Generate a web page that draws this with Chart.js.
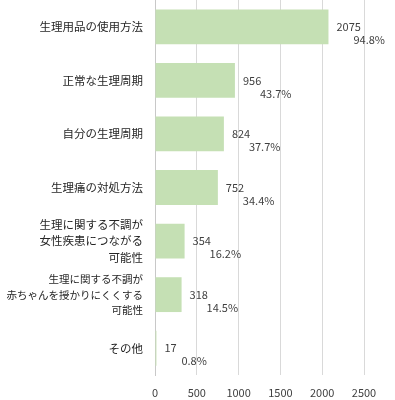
<!DOCTYPE html>
<html>
<head>
<meta charset="utf-8">
<script src="https://cdn.jsdelivr.net/npm/chart.js@4"></script>
<style>
    body { margin: 0; background: #fff; }
    #wrap { width: 395px; height: 400px; }
</style>
</head>
<body>
<div id="wrap"><canvas id="chart" width="395" height="400"></canvas></div>
<script>
// Данные графика
const categories = [
    '生理用品の使用方法',
    '正常な生理周期',
    '自分の生理周期',
    '生理痛の対処方法',
    ['生理に関する不調が', '女性疾患につながる', '可能性'],
    ['生理に関する不調が', '赤ちゃんを授かりにくくする', '可能性'],
    'その他'
];
const counts = [2075, 956, 824, 752, 354, 318, 17];
const percents = [94.8, 43.7, 37.7, 34.4, 16.2, 14.5, 0.8];
const xTicks = [0, 500, 1000, 1500, 2000, 2500];

const fontFamily = '"Noto Sans CJK JP", "Noto Sans", sans-serif';

// Подписи значений справа от столбцов
const valueLabels = {
    id: 'valueLabels',
    afterDatasetsDraw(chart) {
        const ctx = chart.ctx;
        const meta = chart.getDatasetMeta(0);
        const xScale = chart.scales.x;
        ctx.save();
        ctx.font = '11px ' + fontFamily;
        ctx.fillStyle = '#404040';
        ctx.textBaseline = 'middle';
        ctx.textAlign = 'left';
        meta.data.forEach((bar, i) => {
            const end = xScale.getPixelForValue(counts[i]);
            ctx.fillText(String(counts[i]), end + 8, bar.y);
            ctx.fillText(percents[i].toFixed(1) + '%', end + 25, bar.y + 13);
        });
        ctx.restore();
    }
};

new Chart(document.getElementById('chart').getContext('2d'), {
    type: 'bar',
    data: {
        labels: categories,
        datasets: [{
            data: counts,
            backgroundColor: '#c5e0b4',
            borderWidth: 0,
            categoryPercentage: 0.65,
            barPercentage: 1
        }]
    },
    options: {
        indexAxis: 'y',
        responsive: false,
        devicePixelRatio: 1,
        animation: false,
        layout: { padding: { top: 0, right: 31, bottom: 0, left: 0 } },
        plugins: {
            legend: { display: false },
            tooltip: { enabled: false }
        },
        scales: {
            x: {
                min: 0,
                max: 2500,
                afterBuildTicks: scale => {
                    scale.ticks = xTicks.map(v => ({ value: v }));
                },
                afterFit: scale => {
                    scale.height = 25;
                    scale.paddingLeft = 0;
                },
                grid: { color: '#d9d9d9', drawTicks: false },
                border: { display: false },
                ticks: {
                    padding: 11,
                    color: '#404040',
                    font: { family: fontFamily, size: 11 },
                    callback: v => String(v)
                }
            },
            y: {
                afterFit: scale => {
                    scale.width = 155;
                    scale.paddingTop = 0;
                    scale.paddingBottom = 0;
                },
                grid: { display: false, drawTicks: false },
                border: { display: true, color: '#c8c8c8', width: 1 },
                ticks: {
                    autoSkip: false,
                    padding: 12,
                    color: '#262626',
                    font: c => ({
                        family: fontFamily,
                        size: c.index === 5 ? 10.5 : 11.5,
                        lineHeight: c.index === 5 ? 1.5 : 1.4
                    })
                }
            }
        }
    },
    plugins: [valueLabels]
});
</script>
</body>
</html>
